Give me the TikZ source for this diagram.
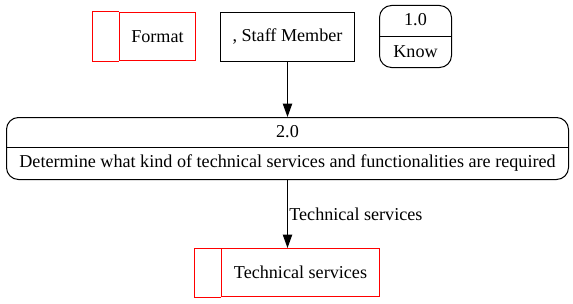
\documentclass[tikz,border=0pt]{standalone}
\usepackage{fontspec}
\setmainfont{Liberation Serif}
\usetikzlibrary{positioning,arrows.meta}

\begin{document}
\begin{tikzpicture}[x=0.75pt,y=-0.75pt,line width=0.75pt,
    every node/.style={font=\fontsize{13.6}{16}\selectfont},
    >={Triangle[length=10pt,width=7pt]}]
  \tikzstyle{store}=[draw=red,minimum height=36pt,inner sep=0pt]
  \tikzstyle{entity}=[draw,minimum width=100.5pt,minimum height=36.75pt,inner sep=0pt]
  \tikzstyle{process}=[draw,rounded corners=9pt,minimum height=46.5pt,inner sep=0pt]
  \useasboundingbox (0,0) rectangle (573,303);

  % data stores, with the small tab on the left
  \node[store,minimum width=57pt] (S_format) at (157.5,36.5) {Format};
  \draw[draw=red] (S_format.north west) -- ++(-27,0) |- (S_format.south west);
  \node[store,minimum width=118.5pt] (S_tech) at (300.5,272.5) {Technical services};
  \draw[draw=red] (S_tech.north west) -- ++(-27,0) |- (S_tech.south west);

  % external entity
  \node[entity] (E_staff) at (287.5,37) {, Staff Member};

  % processes
  \node[process,minimum width=54pt] (P_1) at (415.5,36.5) {};
  \node (P_1_id) at (415.5,20) {1.0};
  \node (P_1_name) at (415.5,51.5) {Know};
  \draw (P_1.west) -- (P_1.east);

  \node[process,minimum width=421.5pt] (P_2) at (287.5,148.5) {};
  \node (P_2_id) at (287.5,131.5) {2.0};
  \node (P_2_name) at (287.5,163.5) {Determine what kind of technical services and functionalities are required};
  \draw ([yshift=0.75pt]P_2.west) -- ([yshift=0.75pt]P_2.east);

  % flows
  \draw[->] (E_staff) -- (P_2);
  \draw[->] (P_2.south) -- (P_2.south |- S_tech.north)
    node[midway,anchor=west,inner sep=1pt] {Technical services};
\end{tikzpicture}
\end{document}
